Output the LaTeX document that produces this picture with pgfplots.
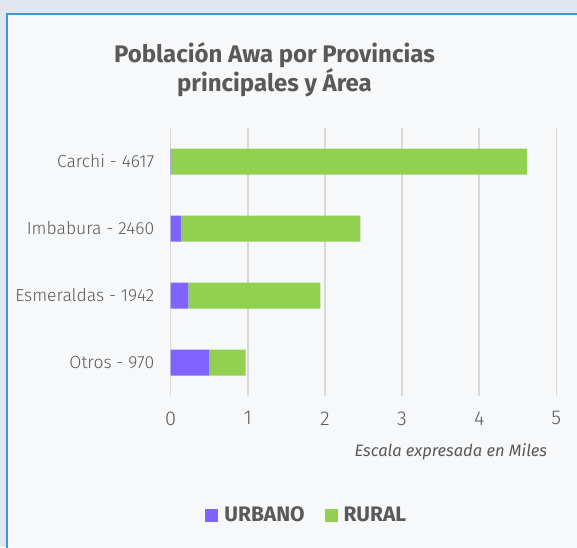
\documentclass[border=0pt]{standalone}
\usepackage{fontspec}
\setmainfont{Fira Sans}
\newfontfamily\lightfont{Fira Sans Light}
\usepackage{pgfplots}
\pgfplotsset{compat=1.18}
\definecolor{outerbg}{HTML}{E0E6EE}
\definecolor{panelbg}{HTML}{F7F8FA}
\definecolor{panelborder}{HTML}{3C97D3}
\definecolor{urb}{HTML}{8064FF}
\definecolor{rur}{HTML}{92D050}
\definecolor{txt}{HTML}{595959}
\definecolor{gridc}{HTML}{D9D9D9}
\begin{document}
\begin{tikzpicture}[x=1pt,y=1pt]
\useasboundingbox (0,0) rectangle (577,547);
\fill[outerbg] (0,0) rectangle (577,547);
\filldraw[fill=panelbg, draw=panelborder, line width=1.5pt] (7,-10) rectangle (590,533);
\node[anchor=base, inner sep=0, text=txt, font=\fontsize{24}{29}\selectfont\bfseries] at (274.5,484.5) {Población Awa por Provincias};
\node[anchor=base, inner sep=0, text=txt, font=\fontsize{24}{29}\selectfont\bfseries] at (274.5,455) {principales y Área};
\begin{axis}[
  at={(170.7pt,151pt)}, anchor=south west, scale only axis,
  width=385.6pt, height=268pt,
  xbar stacked, bar width=26pt,
  xmin=0, xmax=5, ymin=-0.5, ymax=3.5,
  ytick={0,1,2,3},
  yticklabels={Otros - 970, Esmeraldas - 1942, Imbabura - 2460, Carchi - 4617},
  xtick={0,1,2,3,4,5},
  xmajorgrids, grid style={draw=gridc, line width=1.5pt},
  axis line style={draw=none},
  major tick length=0pt,
  /pgf/number format/assume math mode=true,
  xticklabel style={font=\lightfont\fontsize{20}{24}\selectfont, text=txt, yshift=-12pt},
  yticklabel style={font=\lightfont\fontsize{17.5}{20}\selectfont, text=txt, xshift=-13pt},
  legend style={at={(0.353,-0.444)}, anchor=center, draw=none, fill=none,
    legend columns=2, font=\fontsize{21}{24}\selectfont\bfseries, text=txt,
    /tikz/every odd column/.append style={column sep=4pt},
    /tikz/every even column/.append style={column sep=18pt}},
  legend image code/.code={\fill[#1,draw=none] (0pt,-6.5pt) rectangle (13pt,6.5pt);},
]
\addplot[fill=urb, draw=none] coordinates {(0.50,0) (0.23,1) (0.14,2) (0.003,3)};
\addplot[fill=rur, draw=none] coordinates {(0.47,0) (1.712,1) (2.32,2) (4.614,3)};
\legend{URBANO, RURAL}
\end{axis}
\node[anchor=center, inner sep=0, text=txt, font=\fontsize{16.5}{19}\selectfont\itshape] at (450.8,95.3) {Escala expresada en Miles};
\end{tikzpicture}
\end{document}
